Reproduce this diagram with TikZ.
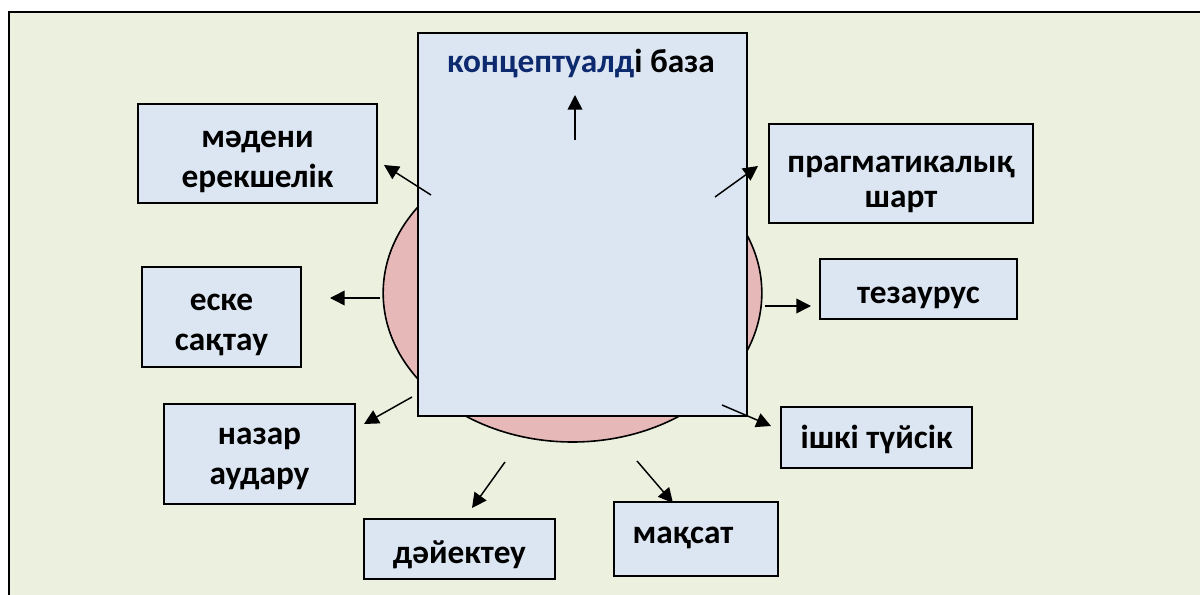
\documentclass[tikz,border=0pt]{standalone}
\usepackage{fontspec}
\setmainfont{Carlito}
\usepackage{xcolor}
\usetikzlibrary{shapes.geometric,arrows.meta}

\definecolor{sheet}{HTML}{EBF1DE}
\definecolor{boxfill}{HTML}{DCE6F2}
\definecolor{corefill}{HTML}{E6B9B8}
\definecolor{navy}{HTML}{0E2A6E}

\begin{document}
\begin{tikzpicture}[x=0.75pt,y=-0.75pt,font=\fontsize{25}{30}\selectfont\bfseries]
    \tikzstyle{box} = [rectangle, draw, line width=1.2pt, fill=boxfill, inner sep=0pt]
    \tikzstyle{boxtext} = [align=center, inner sep=0pt]
    \tikzstyle{pointer} = [-{Triangle[length=11pt,width=11pt]}, line width=1.1pt]
    \useasboundingbox (0,0) rectangle (1200,595);
    \fill[sheet] (9,12) rectangle (1200,595);
    \draw[line width=2.2pt] (9,595) -- (9,12) -- (1200,12);
    % core of the scheme
    \node [ellipse, draw, line width=1.2pt, fill=corefill, minimum width=284pt, minimum height=223.5pt] (core) at (572.5,293) {};
    \node [box, minimum width=246.75pt, minimum height=287.25pt] (base) at (582.5,224.5) {};
    \node [anchor=base] (basetext) at (581,73) {\textcolor{navy}{концептуалд}і база};
    % surrounding boxes
    \node [box, minimum width=179.25pt, minimum height=74.25pt] (madeni) at (257.5,153.5) {};
    \node [box, minimum width=198pt, minimum height=74.25pt] (pragm) at (901,173.5) {};
    \node [box, minimum width=119.25pt, minimum height=75pt] (eske) at (221.5,317) {};
    \node [box, minimum width=147.75pt, minimum height=45pt] (tezaurus) at (918.5,289) {};
    \node [box, minimum width=143.25pt, minimum height=45.75pt] (ishki) at (876.5,437.5) {};
    \node [box, minimum width=143.25pt, minimum height=75pt] (nazar) at (259.5,454) {};
    \node [box, minimum width=143.25pt, minimum height=45pt] (daiek) at (459.5,549) {};
    \node [box, minimum width=123pt, minimum height=55.5pt] (maksat) at (696,539) {};
    % texts in the boxes
    \node [boxtext] (madenitext) at ([yshift=-6.5pt]madeni.center) {мәдени\\ерекшелік};
    \node [boxtext, font=\fontsize{25}{26}\selectfont\bfseries] (pragmtext) at ([yshift=-8pt]pragm.center) {прагматикалық\\шарт};
    \node [boxtext] (esketext) at ([yshift=-6pt]eske.center) {еске\\сақтау};
    \node [boxtext] (tezaurustext) at ([yshift=-7pt]tezaurus.center) {тезаурус};
    \node [boxtext] (ishkitext) at ([yshift=-1.5pt]ishki.center) {ішкі түйсік};
    \node [boxtext] (nazartext) at ([yshift=-4pt]nazar.center) {назар\\аудару};
    \node [boxtext] (daiektext) at ([yshift=-4.5pt]daiek.center) {дәйектеу};
    \node [anchor=base] (maksattext) at (683,543) {мақсат};
    % arrow ends
    \coordinate (up0) at (575,140);   \coordinate (up1) at (575,95);
    \coordinate (md0) at (431,195);   \coordinate (md1) at (384,165);
    \coordinate (pr0) at (715,197);   \coordinate (pr1) at (758,166);
    \coordinate (es0) at (380,298);   \coordinate (es1) at (330,298);
    \coordinate (tz0) at (765,306);   \coordinate (tz1) at (811,306);
    \coordinate (ish0) at (722,405);  \coordinate (ish1) at (771,426);
    \coordinate (nz0) at (412,397);   \coordinate (nz1) at (364,424);
    \coordinate (dk0) at (505,462);   \coordinate (dk1) at (472,508);
    \coordinate (mk0) at (637,461);   \coordinate (mk1) at (673,503);
    \draw [pointer] (up0) -- (up1);
    \draw [pointer] (md0) -- (md1);
    \draw [pointer] (pr0) -- (pr1);
    \draw [pointer] (es0) -- (es1);
    \draw [pointer] (tz0) -- (tz1);
    \draw [pointer] (ish0) -- (ish1);
    \draw [pointer] (nz0) -- (nz1);
    \draw [pointer] (dk0) -- (dk1);
    \draw [pointer] (mk0) -- (mk1);
\end{tikzpicture}
\end{document}
